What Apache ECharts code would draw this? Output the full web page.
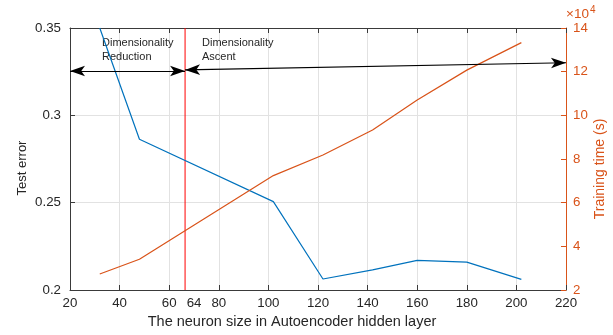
<!DOCTYPE html>
<html><head><meta charset="utf-8">
<script src="https://cdn.jsdelivr.net/npm/echarts@6/dist/echarts.min.js"></script>
<style>html,body{margin:0;padding:0;background:#fff}#c{width:613px;height:335px}</style>
</head><body><div id="c"></div>
<script>
// ---- data ----
const neuronSizes  = [32, 48, 102, 122, 142, 160, 180, 202];
const testError    = [0.350, 0.2863, 0.2506, 0.2063, 0.2115, 0.2170, 0.2160, 0.2061];
const trainingTime = [27300, 34100, 72400, 81800, 93300, 107000, 120700, 133300]; // seconds
const redLineX = 66.4;
const redLineLabel = '64';
const reductionArrow = [[20, 0.3254], [66.4, 0.3254]];
const ascentArrow    = [[66.4, 0.3260], [220, 0.3301]];
const xTitle = 'The neuron size in Autoencoder hidden layer';
const yLeftTitle = 'Test error';
const yRightTitle = 'Training time (s)';

const FONT = "'Liberation Sans', Arial, Helvetica, sans-serif";
const INK = '#262626';
const ORANGE = '#D95319';
const BLUE = '#0072BD';
const RED = '#ff0000';
const GRID = '#e2e2e2';

const Y_MIN = 0.2, Y_MAX = 0.35;

const chart = echarts.init(document.getElementById('c'), null, {renderer: 'canvas'});

const xCommon = {
  type: 'value', min: 20, max: 220, interval: 20,
  axisLine: {show: true, onZero: false, lineStyle: {color: '#3a3a3a', width: 1}},
  axisTick: {show: true, inside: true, length: 5, lineStyle: {color: '#3a3a3a'}}
};

chart.setOption({
  animation: false,
  grid: {left: 70, right: 47, top: 28, bottom: 45, containLabel: false, outerBoundsMode: 'none'},
  xAxis: [
    Object.assign({}, xCommon, {
      position: 'bottom',
      axisLabel: {color: INK, fontFamily: FONT, fontSize: 13.3, margin: 7},
      splitLine: {show: true, lineStyle: {color: GRID, width: 1}}
    }),
    Object.assign({}, xCommon, {
      position: 'top',
      axisLabel: {show: false},
      splitLine: {show: false}
    })
  ],
  yAxis: [
    {
      type: 'value', position: 'left', min: Y_MIN, max: Y_MAX, interval: 0.05,
      axisLine: {show: true, lineStyle: {color: '#3a3a3a'}},
      axisTick: {show: true, inside: true, length: 5, lineStyle: {color: '#3a3a3a'}},
      axisLabel: {color: INK, fontFamily: FONT, fontSize: 13.3, margin: 9,
        formatter: v => String(+v.toFixed(2))},
      splitLine: {show: true, lineStyle: {color: GRID, width: 1}}
    },
    {
      type: 'value', position: 'right', min: 20000, max: 140000, interval: 20000,
      axisLine: {show: true, lineStyle: {color: ORANGE}},
      axisTick: {show: true, inside: true, length: 5, lineStyle: {color: ORANGE}},
      axisLabel: {color: ORANGE, fontFamily: FONT, fontSize: 13.3, margin: 7,
        formatter: v => String(Math.round(v / 10000))},
      splitLine: {show: false}
    }
  ],
  series: [
    {
      name: 'separator', type: 'line', xAxisIndex: 0, yAxisIndex: 0,
      data: [[redLineX, Y_MIN], [redLineX, Y_MAX]],
      symbol: 'none', lineStyle: {color: RED, width: 1}, itemStyle: {color: RED},
      silent: true, z: 2
    },
    {
      name: yLeftTitle, type: 'line', xAxisIndex: 0, yAxisIndex: 0,
      data: neuronSizes.map((x, i) => [x, testError[i]]),
      symbol: 'none', lineStyle: {color: BLUE, width: 1.2}, itemStyle: {color: BLUE},
      silent: true, z: 3,
      markLine: {
        silent: true, animation: false,
        symbol: ['arrow', 'arrow'], symbolSize: [8, 15],
        lineStyle: {color: '#000', width: 1.2, type: 'solid'},
        itemStyle: {color: '#000'},
        label: {show: false},
        data: [
          [{coord: reductionArrow[0]}, {coord: reductionArrow[1]}],
          [{coord: ascentArrow[0]}, {coord: ascentArrow[1]}]
        ]
      }
    },
    {
      name: yRightTitle, type: 'line', xAxisIndex: 0, yAxisIndex: 1,
      data: neuronSizes.map((x, i) => [x, trainingTime[i]]),
      symbol: 'none', lineStyle: {color: ORANGE, width: 1.2}, itemStyle: {color: ORANGE},
      silent: true, z: 3
    }
  ]
});

const redPx = chart.convertToPixel({xAxisIndex: 0, yAxisIndex: 0}, [redLineX, Y_MIN]);

chart.setOption({
  graphic: [
    {type: 'text', x: redPx[0] + 9, y: redPx[1] + 13, silent: true,
      style: {text: redLineLabel, fill: INK, font: '13.3px ' + FONT, textAlign: 'center', textVerticalAlign: 'middle'}},
    {type: 'text', x: 292, y: 322, silent: true,
      style: {text: xTitle, fill: INK, font: '14.5px ' + FONT, textAlign: 'center', textVerticalAlign: 'middle'}},
    {type: 'text', x: 22, y: 168, rotation: Math.PI / 2, silent: true,
      style: {text: yLeftTitle, fill: INK, font: '13px ' + FONT, textAlign: 'center', textVerticalAlign: 'middle'}},
    {type: 'text', x: 600, y: 169, rotation: Math.PI / 2, silent: true,
      style: {text: yRightTitle, fill: ORANGE, font: '14px ' + FONT, textAlign: 'center', textVerticalAlign: 'middle'}},
    {type: 'text', x: 566, y: 14, silent: true,
      style: {text: '{a|×10}{b|4}', fill: ORANGE, font: '13.5px ' + FONT, textVerticalAlign: 'middle',
        rich: {a: {fontSize: 13.5, fontFamily: FONT, fill: ORANGE}, b: {fontSize: 10, fontFamily: FONT, fill: ORANGE, verticalAlign: 'top', padding: [0, 0, 8, 1]}}}},
    {type: 'text', x: 102, y: 36, silent: true,
      style: {text: 'Dimensionality\nReduction', fill: INK, font: '11px ' + FONT, lineHeight: 14}},
    {type: 'text', x: 202, y: 36, silent: true,
      style: {text: 'Dimensionality\nAscent', fill: INK, font: '11px ' + FONT, lineHeight: 14}}
  ]
});
</script>
</body></html>
